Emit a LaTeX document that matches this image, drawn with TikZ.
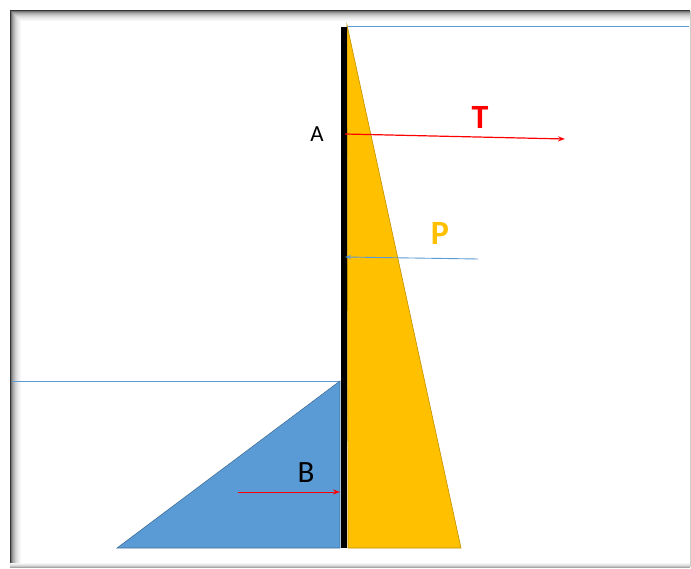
\documentclass[tikz,border=0pt]{standalone}
\usepackage{fontspec}
\setmainfont{Carlito}
\usetikzlibrary{arrows.meta}
\definecolor{soilblue}{RGB}{91,155,213}
\definecolor{soilblueline}{RGB}{65,113,156}
\definecolor{pressyellow}{RGB}{255,192,0}
\definecolor{pressline}{RGB}{191,144,0}
\definecolor{forcered}{RGB}{255,0,0}

\begin{document}
\begin{tikzpicture}[x=1pt, y=-1pt]
\useasboundingbox (0,0) rectangle (691,569);

% --- Frame with inner shadow ---
\fill[white] (10,11) rectangle (690,567);
\foreach \i/\c in {0/80,1/55,2/42,3/33,4/26,5/20,6/15,7/11,8/8,9/5,10/3}
  \draw[black!\c, line width=1pt] (10+\i,11+\i) -- (690,11+\i);
\foreach \i/\c in {0/80,1/55,2/42,3/33,4/26,5/20,6/15,7/11,8/8,9/5,10/3}
  \draw[black!\c, line width=1pt] (10+\i,11+\i) -- (10+\i,567);
\foreach \i/\c in {0/35,1/22,2/14,3/8,4/4}
  \draw[black!\c, line width=1pt] (10,567-\i) -- (690,567-\i);
\draw[black!20, line width=1pt] (690,11) -- (690,567);

% --- Water levels ---
\draw[soilblue, line width=1pt] (347,27) -- (689,27);
\draw[soilblue, line width=1pt] (12,381) -- (340,381);

% --- Passive wedge (blue) ---
\draw[soilblueline, line width=0.6pt, fill=soilblue] (340,381) -- (340,548) -- (117,548) -- cycle;

% --- Active pressure (yellow) ---
\draw[pressline, line width=0.6pt, fill=pressyellow] (347,25) -- (461,548) -- (348,548) -- cycle;

% --- Sheet pile wall ---
\draw[black, line width=6pt] (344,27) -- (344,548);

% Labels
\node[font=\fontsize{23}{27}\selectfont] (labA) at (317,134) {A};
\node[font=\fontsize{31}{36}\selectfont] (labB) at (306,473) {B};
\node[font=\fontsize{34}{40}\selectfont\bfseries, forcered] (labT) at (480,117) {T};
\node[font=\fontsize{34}{40}\selectfont\bfseries, pressyellow] (labP) at (440,233) {P};

% Force arrows
\coordinate (tieA) at (345,134);
\coordinate (tieEnd) at (565,139);
\draw[forcered, line width=1.2pt, -{Stealth[length=7pt, width=5pt]}] (tieA) -- (tieEnd);

\coordinate (presStart) at (478,259);
\coordinate (presEnd) at (345,257);
\draw[soilblue, line width=0.9pt, -{Stealth[length=6pt, width=4pt]}] (presStart) -- (presEnd);

\coordinate (passStart) at (238,492);
\coordinate (passEnd) at (340,492);
\draw[forcered, line width=1pt, -{Stealth[length=7pt, width=5pt]}] (passStart) -- (passEnd);

\end{tikzpicture}
\end{document}
